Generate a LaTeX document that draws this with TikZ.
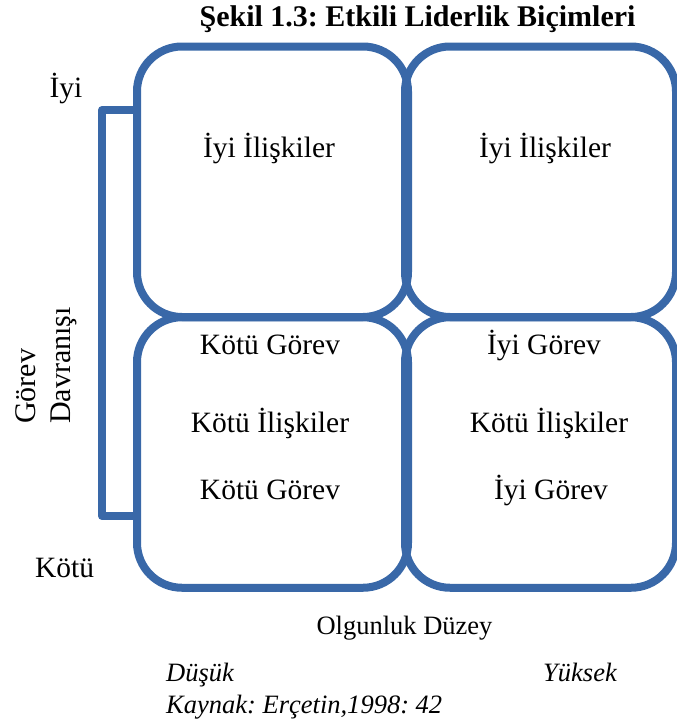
\documentclass[tikz,border=0pt]{standalone}
\usepackage{fontspec}
\setmainfont{Liberation Serif}
\frenchspacing
\definecolor{quadblue}{RGB}{57,104,168}
\begin{document}
\begin{tikzpicture}[x=1pt,y=-1pt,
  quad/.style={draw=quadblue, line width=8pt, rounded corners=45pt, rectangle,
    minimum width=271pt, minimum height=270.5pt, inner sep=0pt, outer sep=0pt},
  bline/.style={draw=quadblue, line width=8pt, line join=round},
  lbl/.style={inner sep=0pt, anchor=base, font=\fontsize{29.5}{34}\selectfont},
  small/.style={inner sep=0pt, font=\fontsize{26.5}{31}\selectfont}]
\useasboundingbox (0,0) rectangle (677,720);
% quadrant boxes
\node[quad] (tl) at (272.5,181.75) {};
\node[quad] (tr) at (540.5,181.75) {};
\node[quad] (bl) at (272.5,452.5) {};
\node[quad] (br) at (540.5,452.5) {};
% bracket
\coordinate (bt) at (102,110);
\coordinate (bb) at (102,516);
\draw[bline] (tl.west |- bt) -- (bt) -- (bb) -- (bl.west |- bb);
% title
\node[inner sep=0pt, anchor=base, font=\fontsize{30}{34}\selectfont\bfseries] (title) at (417.5,26) {Şekil 1.3: Etkili Liderlik Biçimleri};
% axis labels
\node[lbl] (iyi) at (66,97) {İyi};
\node[lbl] (kotu) at (64.5,577) {Kötü};
\node[inner sep=0pt, anchor=base west, rotate=90, font=\fontsize{30}{34}\selectfont] (gorev) at (35,424) {Görev};
\node[inner sep=0pt, anchor=base west, rotate=90, font=\fontsize{30}{34}\selectfont] (davr) at (70,424) {Davranışı};
% box texts
\node[lbl] (t1) at (269,157) {İyi İlişkiler};
\node[lbl] (t2) at (545,157) {İyi İlişkiler};
\node[lbl] (b1a) at (270,354) {Kötü Görev};
\node[lbl] (b1b) at (270,432) {Kötü İlişkiler};
\node[lbl] (b1c) at (270,499) {Kötü Görev};
\node[lbl] (b2a) at (544,354) {İyi Görev};
\node[lbl] (b2b) at (549,432) {Kötü İlişkiler};
\node[lbl] (b2c) at (551,499) {İyi Görev};
% bottom texts
\node[small, anchor=base] (olg) at (404.5,634) {Olgunluk Düzey};
\node[small, anchor=base west] (dus) at (166,681) {\itshape Düşük};
\node[small, anchor=base west] (yuk) at (543,681) {\itshape Yüksek};
\node[small, anchor=base west] (kay) at (166,713) {\itshape Kaynak: Erçetin,1998: 42};
\end{tikzpicture}
\end{document}
